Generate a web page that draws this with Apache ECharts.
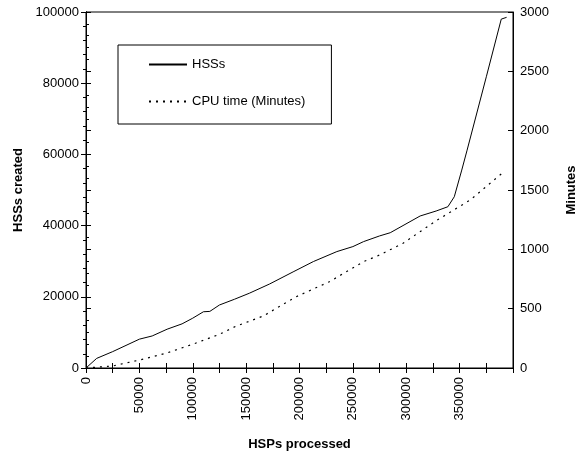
<!DOCTYPE html>
<html>
<head>
<meta charset="utf-8">
<script src="https://cdn.jsdelivr.net/npm/echarts@6/dist/echarts.min.js"></script>
<style>
  html, body { margin: 0; padding: 0; background: #fff; }
  #main { width: 579px; height: 460px; }
</style>
</head>
<body>
<div id="main"></div>
<script>
// HSPs processed (x) -> HSSs created (left axis)
var hssX = [0, 10000, 25000, 50000, 62000, 76000, 90000, 100000, 110000, 116000, 125000, 139000,
            153000, 172000, 194000, 213000, 235000, 250000, 260000, 275000, 285000, 313000,
            328000, 339000, 345000, 352000, 357000, 375000, 389000, 394000];
var hssY = [0, 2700, 4600, 8100, 9000, 10900, 12400, 14000, 15800, 15900, 17700, 19300,
            21000, 23600, 27000, 29900, 32700, 34100, 35500, 37100, 38000, 42700,
            44100, 45300, 48100, 55600, 61200, 81800, 98000, 98500];

// HSPs processed (x) -> CPU time in minutes (right axis)
var cpuX = [0, 25000, 50000, 75000, 100000, 125000, 140000, 166000, 197000, 228000,
            260000, 275000, 297000, 328000, 360000, 391000];
var cpuY = [0, 17, 67, 124, 200, 284, 350, 438, 601, 727,
            896, 952, 1051, 1241, 1416, 1650];

var seriesNames = ['HSSs', 'CPU time (Minutes)'];

function pairs(xs, ys) {
    return xs.map(function (x, i) { return [x, ys[i]]; });
}
function plain(v) { return String(v); }

var font = 'Liberation Sans, Arial, sans-serif';
var black = '#000';

var myChart = echarts.init(document.getElementById('main'));
myChart.setOption({
    animation: false,
    textStyle: { fontFamily: font, color: black },
    grid: {
        left: 86, right: 66, top: 12, bottom: 92,
        containLabel: false,
        outerBoundsMode: 'none',
        show: true, borderColor: black, borderWidth: 1
    },
    legend: {
        orient: 'vertical',
        left: 118, top: 45,
        padding: [13, 26, 16, 30],
        itemGap: 24,
        itemWidth: 38,
        itemHeight: 14,
        borderColor: black,
        borderWidth: 1,
        itemStyle: { opacity: 0 },
        textStyle: { fontSize: 13, color: black, fontFamily: font },
        data: seriesNames
    },
    xAxis: [{
        type: 'value', min: 0, max: 400000, interval: 25000,
        name: 'HSPs processed', nameLocation: 'middle', nameGap: 70,
        nameTextStyle: { fontSize: 13, fontWeight: 'bold', color: black },
        axisLine: { lineStyle: { color: black } },
        axisTick: { length: 5, lineStyle: { color: black } },
        splitLine: { show: false },
        axisLabel: {
            rotate: 90, fontSize: 13, color: black, margin: 9,
            formatter: function (v) { return (v % 50000 === 0 && v < 400000) ? String(v) : ''; }
        }
    }, {
        type: 'value', min: 0, max: 400000, interval: 25000, position: 'bottom',
        axisLine: { show: true, lineStyle: { color: black } },
        axisTick: { show: true, inside: true, length: 5, lineStyle: { color: black } },
        axisLabel: { show: false },
        splitLine: { show: false }
    }],
    yAxis: [{
        type: 'value', min: 0, max: 100000, interval: 20000, position: 'left',
        name: 'HSSs created', nameLocation: 'middle', nameGap: 60,
        nameTextStyle: { fontSize: 13, fontWeight: 'bold', color: black },
        axisLine: { show: true, lineStyle: { color: black } },
        axisTick: { length: 5, lineStyle: { color: black } },
        minorTick: { show: true, splitNumber: 5, length: 3, lineStyle: { color: black } },
        splitLine: { show: false },
        axisLabel: { fontSize: 13, color: black, margin: 7, formatter: plain }
    }, {
        type: 'value', min: 0, max: 3000, interval: 500, position: 'right',
        name: 'Minutes', nameLocation: 'middle', nameGap: 52, nameRotate: 90,
        nameTextStyle: { fontSize: 13, fontWeight: 'bold', color: black },
        axisLine: { show: true, lineStyle: { color: black } },
        axisTick: { length: 5, lineStyle: { color: black } },
        minorTick: { show: true, splitNumber: 5, length: 3, lineStyle: { color: black } },
        splitLine: { show: false },
        axisLabel: { fontSize: 13, color: black, margin: 7, formatter: plain }
    }, {
        type: 'value', min: 0, max: 100000, interval: 20000, position: 'left',
        axisLine: { show: true, lineStyle: { color: black } },
        axisTick: { show: true, inside: true, length: 5, lineStyle: { color: black } },
        axisLabel: { show: false },
        splitLine: { show: false }
    }, {
        type: 'value', min: 0, max: 3000, interval: 500, position: 'right',
        axisLine: { show: true, lineStyle: { color: black } },
        axisTick: { show: true, inside: true, length: 5, lineStyle: { color: black } },
        axisLabel: { show: false },
        splitLine: { show: false }
    }],
    series: [{
        name: seriesNames[0],
        type: 'line',
        xAxisIndex: 0, yAxisIndex: 0,
        symbol: 'none',
        lineStyle: { color: black, width: 1 },
        itemStyle: { color: black },
        data: pairs(hssX, hssY)
    }, {
        name: seriesNames[1],
        type: 'line',
        xAxisIndex: 0, yAxisIndex: 1,
        symbol: 'none',
        lineStyle: { color: black, width: 1.2, type: [2, 5] },
        itemStyle: { color: black },
        data: pairs(cpuX, cpuY)
    }]
});
</script>
</body>
</html>
